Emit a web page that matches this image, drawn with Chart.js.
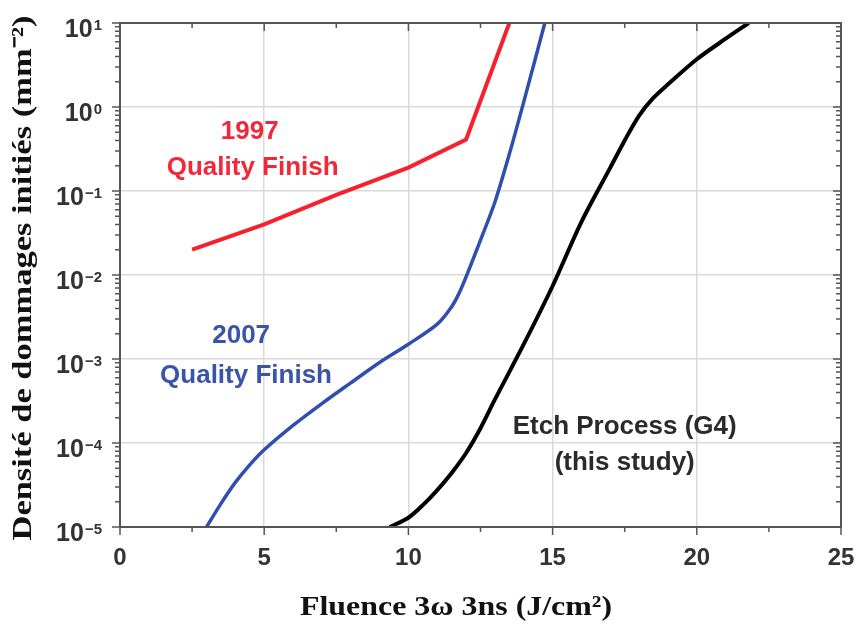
<!DOCTYPE html>
<html>
<head>
<meta charset="utf-8">
<script src="https://cdn.jsdelivr.net/npm/chart.js@4.4.1/dist/chart.umd.min.js"></script>
<style>
    body { margin: 0; background: #fff; }
    canvas { display: block; }
</style>
</head>
<body>
<canvas id="chart" width="859" height="633"></canvas>
<script>
// données
const red1997X = [2.5, 5, 7.5, 10, 12, 13.5];
const red1997Y = [0.02, 0.04, 0.09, 0.19, 0.41, 10];

const blue2007X = [3, 3.5, 4, 4.5, 5, 6, 7, 8, 9, 10, 11, 11.5, 11.75, 12, 12.5, 13, 13.5, 14, 14.73];
const blue2007Y = [1e-5, 1.9e-5, 3.4e-5, 5.5e-5, 8.3e-5, 1.62e-4, 2.95e-4, 5.2e-4, 9.1e-4, 1.5e-3, 2.6e-3, 4.2e-3, 6.0e-3, 9.5e-3, 0.026, 0.074, 0.275, 1.15, 10];

const etchX = [9.35, 10, 10.5, 11, 11.5, 12, 12.5, 13, 14, 15, 16, 17, 17.5, 18, 18.5, 19, 20, 21, 21.8];
const etchY = [1e-5, 1.29e-5, 1.82e-5, 2.75e-5, 4.4e-5, 7.6e-5, 1.5e-4, 3.3e-4, 1.5e-3, 7.4e-3, 0.043, 0.19, 0.4, 0.79, 1.29, 1.86, 3.7, 6.5, 10];

const xTicks = [0, 5, 10, 15, 20, 25];
const yExponents = [-5, -4, -3, -2, -1, 0, 1];

const xTitle = 'Fluence 3\u03c9 3ns (J/cm\u00b2)';
const yTitle = 'Densit\u00e9 de dommages initi\u00e9s (mm\u207b\u00b2)';

// étiquettes dans le graphique (x, y en unités des axes)
const notes = [
    { text: '1997', x: 4.5, y: 0.5, color: '#f2283a' },
    { text: 'Quality Finish', x: 4.6, y: 0.19, color: '#f2283a' },
    { text: '2007', x: 4.2, y: 1.9e-3, color: '#3a54aa' },
    { text: 'Quality Finish', x: 4.37, y: 6.3e-4, color: '#3a54aa' },
    { text: 'Etch Process (G4)', x: 17.5, y: 1.55e-4, color: '#2a2a2a' },
    { text: '(this study)', x: 17.5, y: 5.8e-5, color: '#2a2a2a' }
];

function toPoints(xs, ys) {
    return xs.map((x, i) => ({ x: x, y: ys[i] }));
}

function stretchedText(ctx, text, cx, cy, width, angle) {
    ctx.save();
    ctx.translate(cx, cy);
    ctx.rotate(angle);
    const w = ctx.measureText(text).width;
    ctx.scale(width / w, 1);
    ctx.fillText(text, 0, 0);
    ctx.restore();
}

const decorPlugin = {
    id: 'decor',
    afterDraw(chart) {
        const ctx = chart.ctx;
        const area = chart.chartArea;
        const xs = chart.scales.x;
        const ys = chart.scales.y;

        ctx.save();
        // cadre
        ctx.strokeStyle = '#555';
        ctx.lineWidth = 2;
        ctx.strokeRect(area.left, area.top, area.right - area.left, area.bottom - area.top);

        // graduations x
        ctx.lineWidth = 1.5;
        for (let v = 0; v <= 25; v += 2.5) {
            const px = xs.getPixelForValue(v);
            const len = v % 5 === 0 ? 8 : 5;
            ctx.beginPath();
            ctx.moveTo(px, area.bottom);
            ctx.lineTo(px, area.bottom + len);
            ctx.moveTo(px, area.top);
            ctx.lineTo(px, area.top + len);
            ctx.stroke();
        }

        // graduations y (log)
        yExponents.forEach(e => {
            for (let m = 1; m <= 9; m++) {
                const val = m * Math.pow(10, e);
                if (val > 10.0001) break;
                const py = ys.getPixelForValue(val);
                const len = m === 1 ? 8 : 5;
                ctx.beginPath();
                ctx.moveTo(area.left, py);
                ctx.lineTo(area.left - len, py);
                ctx.moveTo(area.right, py);
                ctx.lineTo(area.right - len, py);
                ctx.stroke();
            }
        });

        // étiquettes x
        ctx.fillStyle = '#333';
        ctx.font = 'bold 24px "Liberation Sans", Arial, sans-serif';
        ctx.textAlign = 'center';
        ctx.textBaseline = 'middle';
        xTicks.forEach(v => {
            ctx.fillText(String(v), xs.getPixelForValue(v), area.bottom + 31);
        });

        // étiquettes y avec exposant
        ctx.textBaseline = 'alphabetic';
        yExponents.forEach(e => {
            const py = ys.getPixelForValue(Math.pow(10, e));
            const exp = e < 0 ? '\u2212' + Math.abs(e) : String(e);
            ctx.font = 'bold 15px "Liberation Sans", Arial, sans-serif';
            const ew = ctx.measureText(exp).width;
            const right = 102;
            ctx.textAlign = 'left';
            ctx.fillText(exp, right - ew, py + 7);
            ctx.font = 'bold 25px "Liberation Sans", Arial, sans-serif';
            ctx.textAlign = 'right';
            ctx.fillText('10', right - ew - 1, py + 14);
        });

        // titres des axes
        ctx.fillStyle = '#111';
        ctx.textAlign = 'center';
        ctx.textBaseline = 'middle';
        ctx.font = 'bold 28px "Liberation Serif", "Times New Roman", serif';
        stretchedText(ctx, xTitle, 456, 608, 312, 0);
        stretchedText(ctx, yTitle, 24, 278, 525, -Math.PI / 2);

        // annotations
        ctx.font = 'bold 26px "Liberation Sans", Arial, sans-serif';
        notes.forEach(n => {
            ctx.fillStyle = n.color;
            ctx.fillText(n.text, xs.getPixelForValue(n.x), ys.getPixelForValue(n.y));
        });
        ctx.restore();
    }
};

const ctx = document.getElementById('chart').getContext('2d');
new Chart(ctx, {
    type: 'line',
    data: {
        datasets: [{
            label: '1997 Quality Finish',
            data: toPoints(red1997X, red1997Y),
            borderColor: '#f5222d',
            borderWidth: 4,
            pointRadius: 0,
            tension: 0,
            fill: false
        }, {
            label: '2007 Quality Finish',
            data: toPoints(blue2007X, blue2007Y),
            borderColor: '#2f4eae',
            borderWidth: 3.5,
            pointRadius: 0,
            tension: 0.3,
            fill: false
        }, {
            label: 'Etch Process (G4)',
            data: toPoints(etchX, etchY),
            borderColor: '#000000',
            borderWidth: 4,
            pointRadius: 0,
            tension: 0.3,
            fill: false
        }]
    },
    options: {
        responsive: false,
        animation: false,
        devicePixelRatio: 1,
        layout: { padding: { top: 23, right: 18, left: 0, bottom: 0 } },
        plugins: {
            legend: { display: false },
            tooltip: { enabled: false }
        },
        scales: {
            x: {
                type: 'linear',
                min: 0,
                max: 25,
                afterBuildTicks: scale => { scale.ticks = xTicks.map(v => ({ value: v })); },
                afterFit: scale => { scale.height = 106; },
                ticks: { display: false },
                grid: { color: '#d9d9d9', lineWidth: 1.5, drawTicks: false },
                border: { display: true, color: '#555', width: 2 }
            },
            y: {
                type: 'logarithmic',
                min: 1e-5,
                max: 10,
                afterBuildTicks: scale => { scale.ticks = yExponents.map(e => ({ value: Math.pow(10, e) })); },
                afterFit: scale => { scale.width = 120; },
                ticks: { display: false },
                grid: { color: '#d9d9d9', lineWidth: 1.5, drawTicks: false },
                border: { display: true, color: '#555', width: 2 }
            }
        }
    },
    plugins: [decorPlugin]
});
</script>
</body>
</html>
